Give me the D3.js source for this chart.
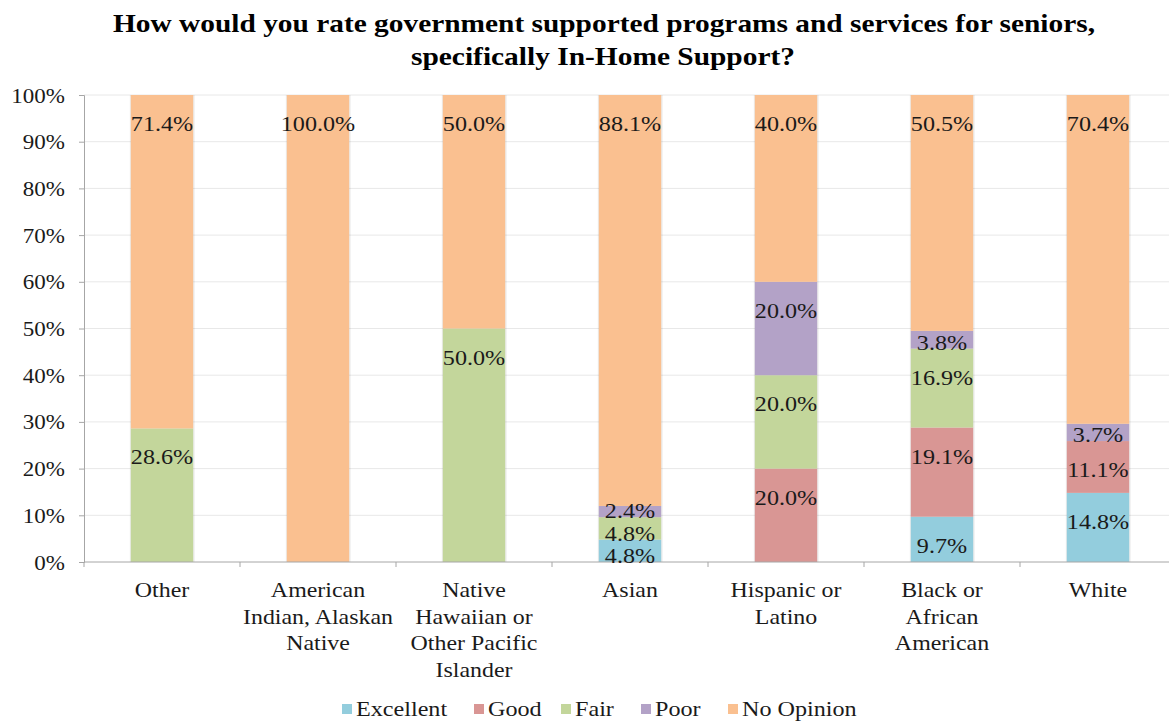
<!DOCTYPE html>
<html><head><meta charset="utf-8">
<script src="https://cdn.jsdelivr.net/npm/d3@7"></script>
<style>body{margin:0;background:#fff}svg{display:block}</style>
</head><body><svg id="c" width="1169" height="721"></svg>
<script>
const categories = [["Other"],["American","Indian, Alaskan","Native"],["Native","Hawaiian or","Other Pacific","Islander"],["Asian"],["Hispanic or","Latino"],["Black or","African","American"],["White"]];
const seriesNames = ["Excellent","Good","Fair","Poor","No Opinion"];
const excellent = [0, 0, 0, 4.8, 0, 9.7, 14.8];
const good      = [0, 0, 0, 0, 20.0, 19.1, 11.1];
const fair      = [28.6, 0, 50.0, 4.8, 20.0, 16.9, 0];
const poor      = [0, 0, 0, 2.4, 20.0, 3.8, 3.7];
const noOpinion = [71.4, 100.0, 50.0, 88.1, 40.0, 50.5, 70.4];
const yTicks = [0,10,20,30,40,50,60,70,80,90,100];
const colors = ["#93CDDD","#D99694","#C3D69B","#B3A2C7","#FAC090"];

const FONT = "'Liberation Serif', 'Times New Roman', Times, 'DejaVu Serif', serif";
const SX = 1.15, FS = 20.5, TXT = "#1a1a1a";
const svg = d3.select("#c").attr("font-family", FONT).style("font-family", FONT);
const x0 = 84, x1 = 1176, yTop = 95, yBot = 562;
const x = d3.scaleBand().domain(d3.range(categories.length)).range([x0, x1]).paddingInner(0.6).paddingOuter(0.3);
const y = d3.scaleLinear().domain([0, 100]).range([yBot, yTop]);

function sText(parent, tx, ty, str, anchor, size) {
  return parent.append("text").attr("transform", `translate(${tx},${ty}) scale(${SX},1)`)
    .attr("text-anchor", anchor).attr("font-size", size || FS).attr("fill", TXT)
    .attr("font-family", FONT).style("font-family", FONT).text(str);
}

// gridlines
svg.append("g").selectAll("line").data(yTicks.filter(d=>d>0)).join("line")
  .attr("x1", x0).attr("x2", 1169).attr("y1", d=>y(d)).attr("y2", d=>y(d))
  .attr("stroke", "#E8E8E8").attr("stroke-width", 1);

// y axis
const ya = svg.append("g").attr("transform", `translate(${x0},0)`)
  .call(d3.axisLeft(y).tickValues(yTicks).tickFormat(d=>d+"%").tickSize(5).tickPadding(14));
ya.attr("font-family", FONT).style("font-family", FONT);
ya.select(".domain").attr("stroke", "#A6A6A6");
ya.selectAll(".tick line").attr("stroke", "#A6A6A6");
ya.selectAll(".tick text").attr("x", null).attr("dy", null)
  .attr("transform", `translate(-19,7) scale(${SX},1)`)
  .attr("font-family", FONT).style("font-family", FONT)
  .attr("font-size", FS - 0.5).attr("fill", TXT);

// stacked data
const table = categories.map((c, i) => ({i, Excellent: excellent[i], Good: good[i], Fair: fair[i], Poor: poor[i], "No Opinion": noOpinion[i]}));
const stack = d3.stack().keys(seriesNames)(table);

const gBars = svg.append("g");
gBars.selectAll(null).data(categories.map((c,i)=>i)).join("rect")
  .attr("x", i => x(i) - 1).attr("width", x.bandwidth() + 2.5).attr("y", yTop).attr("height", yBot - yTop)
  .attr("fill", "#000").attr("fill-opacity", 0.07);
stack.forEach((layer, k) => {
  gBars.selectAll(null).data(layer.filter(d => d[1] - d[0] > 0)).join("rect")
    .attr("x", d => x(d.data.i)).attr("width", x.bandwidth())
    .attr("y", d => y(Math.min(d[1], 100))).attr("height", d => y(d[0]) - y(Math.min(d[1], 100)))
    .attr("fill", colors[k]);
});

// x axis
const xa = svg.append("g");
xa.append("line").attr("x1", x0).attr("x2", 1169).attr("y1", yBot).attr("y2", yBot).attr("stroke", "#A6A6A6");
xa.selectAll(null).data(d3.range(categories.length + 1)).join("line")
  .attr("x1", i => x0 + i * (x1 - x0) / categories.length).attr("x2", i => x0 + i * (x1 - x0) / categories.length)
  .attr("y1", yBot).attr("y2", yBot + 5).attr("stroke", "#A6A6A6");

// value labels
stack.forEach((layer, k) => {
  layer.forEach(d => {
    const v = d[1] - d[0];
    if (v <= 0) return;
    const top = y(Math.min(d[1], 100)), bot = y(d[0]);
    const cy = Math.min(top + 29, bot - 6);
    sText(svg, x(d.data.i) + x.bandwidth()/2, cy + 7, d3.format(".1f")(v) + "%", "middle", FS + 0.5);
  });
});

// category labels
categories.forEach((lines, i) => {
  lines.forEach((ln, j) => {
    sText(svg, x(i) + x.bandwidth()/2, 597 + j * 26.5, ln, "middle", FS + 0.3);
  });
});

// title
const title = ["How would you rate government supported programs and services for seniors,", "specifically In-Home Support?"];
svg.append("text").attr("x", 604).attr("y", 32).attr("text-anchor", "middle").attr("font-size", 25).attr("fill", "#000")
  .attr("font-family", FONT).attr("font-weight", "bold").attr("textLength", 982).attr("lengthAdjust", "spacingAndGlyphs").text(title[0]);
svg.append("text").attr("x", 603).attr("y", 65).attr("text-anchor", "middle").attr("font-size", 25).attr("fill", "#000")
  .attr("font-family", FONT).attr("font-weight", "bold").attr("textLength", 384).attr("lengthAdjust", "spacingAndGlyphs").text(title[1]);

// legend
const legX = [342, 474, 561, 641, 728];
const leg = svg.append("g");
seriesNames.forEach((n, k) => {
  leg.append("rect").attr("x", legX[k]).attr("y", 704).attr("width", 10).attr("height", 10).attr("fill", colors[k]);
  sText(leg, legX[k] + 14, 716, n, "start", FS + 0.5);
});
</script></body></html>
